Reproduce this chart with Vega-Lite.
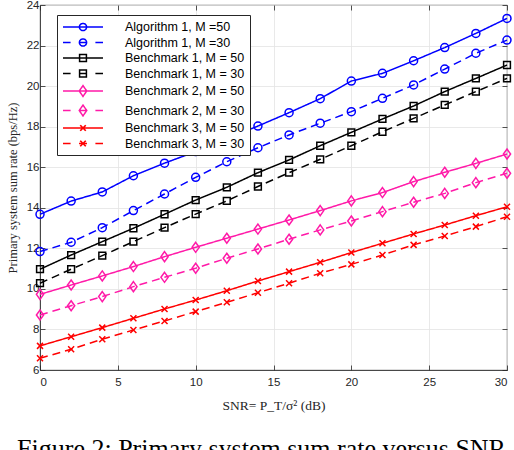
{
  "$schema": "https://vega.github.io/schema/vega-lite/v6.json",
  "width": 467,
  "height": 365,
  "autosize": {"type": "none"},
  "padding": {"left": 40, "top": 5, "right": 7, "bottom": 80},
  "background": "white",
  "title": {
    "text": "Figure 2: Primary system sum rate versus SNR",
    "orient": "bottom",
    "anchor": "middle",
    "font": "Liberation Serif",
    "fontSize": 26,
    "fontWeight": "normal",
    "color": "#000000",
    "offset": 24,
    "dx": -12
  },
  "data": {
    "values": [
      {"x": 0, "Algorithm 1, M =50": 13.68, "Algorithm 1, M =30": 11.84, "Benchmark 1, M = 50": 10.97, "Benchmark 1, M = 30": 10.28, "Benchmark 2, M = 50": 9.73, "Benchmark 2, M = 30": 8.71, "Benchmark 3, M = 50": 7.19, "Benchmark 3, M = 30": 6.58},
      {"x": 2, "Algorithm 1, M =50": 14.33, "Algorithm 1, M =30": 12.3, "Benchmark 1, M = 50": 11.67, "Benchmark 1, M = 30": 10.97, "Benchmark 2, M = 50": 10.19, "Benchmark 2, M = 30": 9.17, "Benchmark 3, M = 50": 7.64, "Benchmark 3, M = 30": 7.02},
      {"x": 4, "Algorithm 1, M =50": 14.78, "Algorithm 1, M =30": 13.02, "Benchmark 1, M = 50": 12.33, "Benchmark 1, M = 30": 11.64, "Benchmark 2, M = 50": 10.64, "Benchmark 2, M = 30": 9.62, "Benchmark 3, M = 50": 8.09, "Benchmark 3, M = 30": 7.52},
      {"x": 6, "Algorithm 1, M =50": 15.58, "Algorithm 1, M =30": 13.86, "Benchmark 1, M = 50": 12.99, "Benchmark 1, M = 30": 12.33, "Benchmark 2, M = 50": 11.1, "Benchmark 2, M = 30": 10.11, "Benchmark 3, M = 50": 8.55, "Benchmark 3, M = 30": 7.97},
      {"x": 8, "Algorithm 1, M =50": 16.2, "Algorithm 1, M =30": 14.68, "Benchmark 1, M = 50": 13.68, "Benchmark 1, M = 30": 13.02, "Benchmark 2, M = 50": 11.59, "Benchmark 2, M = 30": 10.57, "Benchmark 3, M = 50": 9.01, "Benchmark 3, M = 30": 8.42},
      {"x": 10, "Algorithm 1, M =50": 16.77, "Algorithm 1, M =30": 15.5, "Benchmark 1, M = 50": 14.38, "Benchmark 1, M = 30": 13.69, "Benchmark 2, M = 50": 12.05, "Benchmark 2, M = 30": 11.02, "Benchmark 3, M = 50": 9.45, "Benchmark 3, M = 30": 8.88},
      {"x": 12, "Algorithm 1, M =50": 17.4, "Algorithm 1, M =30": 16.27, "Benchmark 1, M = 50": 15.01, "Benchmark 1, M = 30": 14.34, "Benchmark 2, M = 50": 12.5, "Benchmark 2, M = 30": 11.51, "Benchmark 3, M = 50": 9.91, "Benchmark 3, M = 30": 9.34},
      {"x": 14, "Algorithm 1, M =50": 18.03, "Algorithm 1, M =30": 16.96, "Benchmark 1, M = 50": 15.73, "Benchmark 1, M = 30": 15.05, "Benchmark 2, M = 50": 12.95, "Benchmark 2, M = 30": 11.97, "Benchmark 3, M = 50": 10.39, "Benchmark 3, M = 30": 9.81},
      {"x": 16, "Algorithm 1, M =50": 18.69, "Algorithm 1, M =30": 17.59, "Benchmark 1, M = 50": 16.36, "Benchmark 1, M = 30": 15.73, "Benchmark 2, M = 50": 13.4, "Benchmark 2, M = 30": 12.45, "Benchmark 3, M = 50": 10.85, "Benchmark 3, M = 30": 10.28},
      {"x": 18, "Algorithm 1, M =50": 19.38, "Algorithm 1, M =30": 18.17, "Benchmark 1, M = 50": 17.06, "Benchmark 1, M = 30": 16.39, "Benchmark 2, M = 50": 13.86, "Benchmark 2, M = 30": 12.91, "Benchmark 3, M = 50": 11.31, "Benchmark 3, M = 30": 10.77},
      {"x": 20, "Algorithm 1, M =50": 20.25, "Algorithm 1, M =30": 18.74, "Benchmark 1, M = 50": 17.72, "Benchmark 1, M = 30": 17.06, "Benchmark 2, M = 50": 14.34, "Benchmark 2, M = 30": 13.35, "Benchmark 3, M = 50": 11.79, "Benchmark 3, M = 30": 11.21},
      {"x": 22, "Algorithm 1, M =50": 20.63, "Algorithm 1, M =30": 19.4, "Benchmark 1, M = 50": 18.38, "Benchmark 1, M = 30": 17.75, "Benchmark 2, M = 50": 14.75, "Benchmark 2, M = 30": 13.81, "Benchmark 3, M = 50": 12.25, "Benchmark 3, M = 30": 11.67},
      {"x": 24, "Algorithm 1, M =50": 21.25, "Algorithm 1, M =30": 20.06, "Benchmark 1, M = 50": 19.02, "Benchmark 1, M = 30": 18.41, "Benchmark 2, M = 50": 15.29, "Benchmark 2, M = 30": 14.27, "Benchmark 3, M = 50": 12.71, "Benchmark 3, M = 30": 12.17},
      {"x": 26, "Algorithm 1, M =50": 21.9, "Algorithm 1, M =30": 20.84, "Benchmark 1, M = 50": 19.73, "Benchmark 1, M = 30": 19.07, "Benchmark 2, M = 50": 15.75, "Benchmark 2, M = 30": 14.71, "Benchmark 3, M = 50": 13.15, "Benchmark 3, M = 30": 12.61},
      {"x": 28, "Algorithm 1, M =50": 22.6, "Algorithm 1, M =30": 21.62, "Benchmark 1, M = 50": 20.38, "Benchmark 1, M = 30": 19.73, "Benchmark 2, M = 50": 16.19, "Benchmark 2, M = 30": 15.24, "Benchmark 3, M = 50": 13.61, "Benchmark 3, M = 30": 13.07},
      {"x": 30, "Algorithm 1, M =50": 23.34, "Algorithm 1, M =30": 22.27, "Benchmark 1, M = 50": 21.04, "Benchmark 1, M = 30": 20.38, "Benchmark 2, M = 50": 16.65, "Benchmark 2, M = 30": 15.7, "Benchmark 3, M = 50": 14.05, "Benchmark 3, M = 30": 13.56}
    ]
  },
  "transform": [
    {"fold": ["Algorithm 1, M =50", "Algorithm 1, M =30", "Benchmark 1, M = 50", "Benchmark 1, M = 30", "Benchmark 2, M = 50", "Benchmark 2, M = 30", "Benchmark 3, M = 50", "Benchmark 3, M = 30"], "as": ["series", "rate"]}
  ],
  "encoding": {
    "x": {
      "field": "x",
      "type": "quantitative",
      "scale": {"domain": [0, 30], "nice": false, "zero": false},
      "axis": {
        "values": [0, 5, 10, 15, 20, 25, 30],
        "title": "SNR= P_T/σ² (dB)",
        "titleFontSize": 13.5,
        "labelPadding": 11,
        "titlePadding": 11
      }
    },
    "y": {
      "field": "rate",
      "type": "quantitative",
      "scale": {"domain": [6, 24], "nice": false, "zero": false},
      "axis": {
        "values": [6, 8, 10, 12, 14, 16, 18, 20, 22, 24],
        "title": "Primary system sum rate (bps/Hz)",
        "titleFontSize": 12.5,
        "labelPadding": 6,
        "titlePadding": 7
      }
    },
    "color": {
      "field": "series",
      "type": "nominal",
      "scale": {
        "domain": ["Algorithm 1, M =50", "Algorithm 1, M =30", "Benchmark 1, M = 50", "Benchmark 1, M = 30", "Benchmark 2, M = 50", "Benchmark 2, M = 30", "Benchmark 3, M = 50", "Benchmark 3, M = 30"],
        "range": ["#0000ff", "#0000ff", "#000000", "#000000", "#ff1aa8", "#ff1aa8", "#ff0000", "#ff0000"]
      },
      "legend": {
        "title": null,
        "orient": "none",
        "legendX": 17,
        "legendY": 10,
        "symbolSize": 144,
        "symbolOffset": 14,
        "labelOffset": 35,
        "rowPadding": 1.5,
        "padding": 5,
        "fillColor": "white",
        "strokeColor": "#262626",
        "labelFont": "Liberation Sans",
        "labelFontSize": 12.5,
        "labelColor": "#000000",
        "labelExpr": "datum.label + '\u00a0\u00a0\u00a0\u00a0\u00a0'",
        "encode": {
          "symbols": {
            "update": {
              "shape": {"signal": "(test(/50$/, datum.value) ? 'M-3.333,0H3.333' : 'M-3.333,0H-2.067M-0.667,0H0.667M2.067,0H3.333') + (test(/Algorithm/, datum.value) ? 'M-0.6,0A0.6,0.6 0 1,0 0.6,0A0.6,0.6 0 1,0 -0.6,0' : test(/Benchmark 1/, datum.value) ? 'M-0.57,-0.57H0.57V0.57H-0.57Z' : test(/Benchmark 2/, datum.value) ? 'M0,-0.9L0.63,0L0,0.9L-0.63,0Z' : 'M-0.47,-0.47L0.47,0.47M-0.47,0.47L0.47,-0.47')"},
              "fill": {"value": "transparent"},
              "strokeWidth": {"value": 1.5},
              "strokeDash": {"value": [1, 0]},
              "opacity": {"value": 1}
            }
          }
        }
      }
    }
  },
  "layer": [
    {
      "mark": {"type": "line", "strokeWidth": 1.5},
      "encoding": {
        "strokeDash": {
          "field": "series",
          "type": "nominal",
          "scale": {
            "domain": ["Benchmark 3, M = 30", "Benchmark 3, M = 50", "Benchmark 2, M = 30", "Benchmark 2, M = 50", "Benchmark 1, M = 30", "Benchmark 1, M = 50", "Algorithm 1, M =30", "Algorithm 1, M =50"],
            "range": [[8, 5], [1, 0], [8, 5], [1, 0], [8, 5], [1, 0], [8, 5], [1, 0]]
          },
          "legend": null
        }
      }
    },
    {
      "mark": {"type": "point", "filled": false, "strokeWidth": 1.5, "size": 64, "opacity": 1},
      "encoding": {
        "x": {
          "field": "x",
          "type": "quantitative",
          "scale": {"domain": [0, 30], "nice": false, "zero": false},
          "axis": {"orient": "top", "values": [0, 5, 10, 15, 20, 25, 30], "labels": false, "title": null, "grid": false, "domain": false}
        },
        "y": {
          "field": "rate",
          "type": "quantitative",
          "scale": {"domain": [6, 24], "nice": false, "zero": false},
          "axis": {"orient": "right", "values": [6, 8, 10, 12, 14, 16, 18, 20, 22, 24], "labels": false, "title": null, "grid": false, "domain": false}
        },
        "shape": {
          "field": "series",
          "type": "nominal",
          "scale": {
            "domain": ["Benchmark 3, M = 30", "Benchmark 3, M = 50", "Benchmark 2, M = 30", "Benchmark 2, M = 50", "Benchmark 1, M = 30", "Benchmark 1, M = 50", "Algorithm 1, M =30", "Algorithm 1, M =50"],
            "range": ["M-0.75,-0.75L0.75,0.75M-0.75,0.75L0.75,-0.75", "M-0.75,-0.75L0.75,0.75M-0.75,0.75L0.75,-0.75", "M0,-1.25L0.9,0L0,1.25L-0.9,0Z", "M0,-1.25L0.9,0L0,1.25L-0.9,0Z", "M-0.85,-0.85H0.85V0.85H-0.85Z", "M-0.85,-0.85H0.85V0.85H-0.85Z", "circle", "circle"]
          },
          "legend": null
        }
      }
    }
  ],
  "resolve": {"axis": {"x": "independent", "y": "independent"}},
  "config": {
    "view": {"stroke": "#262626", "strokeWidth": 0.8},
    "axis": {
      "domainColor": "#262626",
      "domainWidth": 0.8,
      "tickColor": "#262626",
      "tickWidth": 0.8,
      "tickSize": -5,
      "labelColor": "#262626",
      "labelFont": "Liberation Sans",
      "labelFontSize": 11.5,
      "gridColor": "#e3e3e3",
      "gridWidth": 0.8,
      "titleFont": "Liberation Serif",
      "titleFontWeight": "normal",
      "titleColor": "#262626"
    }
  }
}
